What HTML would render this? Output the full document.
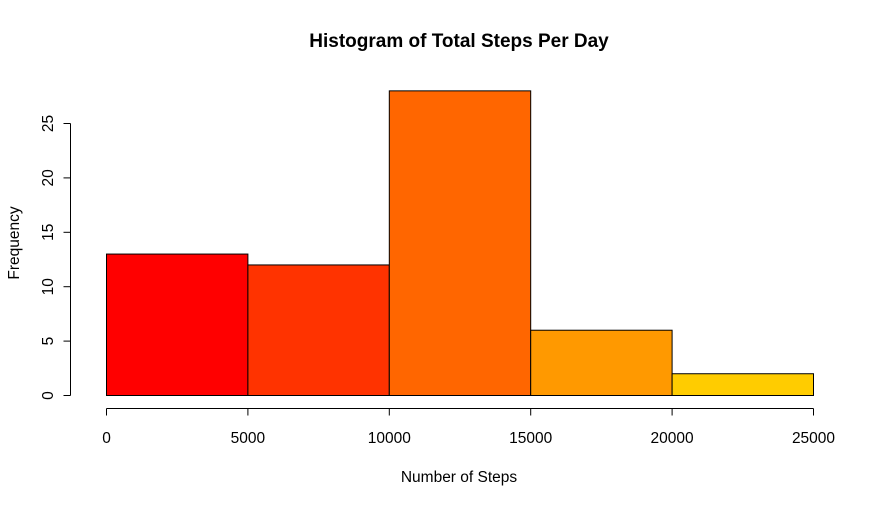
<!DOCTYPE html>
<html><head><meta charset="utf-8"><style>body{margin:0;background:#fff}svg{display:block;font-family:"Liberation Sans",Arial,sans-serif}</style></head>
<body>
<svg id="c" width="882" height="506"></svg>
<script>
const binStarts=[0,5000,10000,15000,20000];
const binWidth=5000;
const counts=[13,12,28,6,2];
const colors=["#FF0000","#FF3300","#FF6600","#FF9900","#FFCC00"];
const xTicks=[0,5000,10000,15000,20000,25000];
const yTicks=[0,5,10,15,20,25];
const NS="http://www.w3.org/2000/svg";
const svg=document.getElementById('c');
const xs=v=>106.5+(v/25000)*707;
const ys=v=>395.5-v*10.88;
function mk(t,a,txt){const e=document.createElementNS(NS,t);for(const k in a)e.setAttribute(k,a[k]);if(txt!==undefined)e.textContent=txt;svg.appendChild(e);return e;}
counts.forEach((c,i)=>{
const r=mk('rect',{x:xs(binStarts[i]),y:ys(c),width:xs(binStarts[i]+binWidth)-xs(binStarts[i]),height:ys(0)-ys(c),fill:colors[i],stroke:'#000','stroke-width':1});


});
let ax=mk('line',{x1:xs(0),x2:xs(25000),y1:408.5,y2:408.5,stroke:'#000'});


xTicks.forEach(v=>{
mk('line',{x1:xs(v),x2:xs(v),y1:408.5,y2:415.5,stroke:'#000'});
const t=mk('text',{x:xs(v),y:443,'text-anchor':'middle','font-size':15.5},String(v));


});
let ay=mk('line',{x1:70.5,x2:70.5,y1:ys(0),y2:ys(25),stroke:'#000'});


yTicks.forEach(v=>{
mk('line',{x1:63.5,x2:70.5,y1:ys(v),y2:ys(v),stroke:'#000'});
const t=mk('text',{x:53,y:ys(v),'text-anchor':'middle','font-size':15.5,transform:`rotate(-90 53 ${ys(v)})`},String(v));


});
let ti=mk('text',{x:459,y:47,'text-anchor':'middle','font-size':19,'font-weight':'bold'},'Histogram of Total Steps Per Day');


let xl=mk('text',{x:459,y:482,'text-anchor':'middle','font-size':15.5},'Number of Steps');


let yl=mk('text',{x:19,y:243,'text-anchor':'middle','font-size':15.5,transform:'rotate(-90 19 243)'},'Frequency');


</script>
</body></html>
